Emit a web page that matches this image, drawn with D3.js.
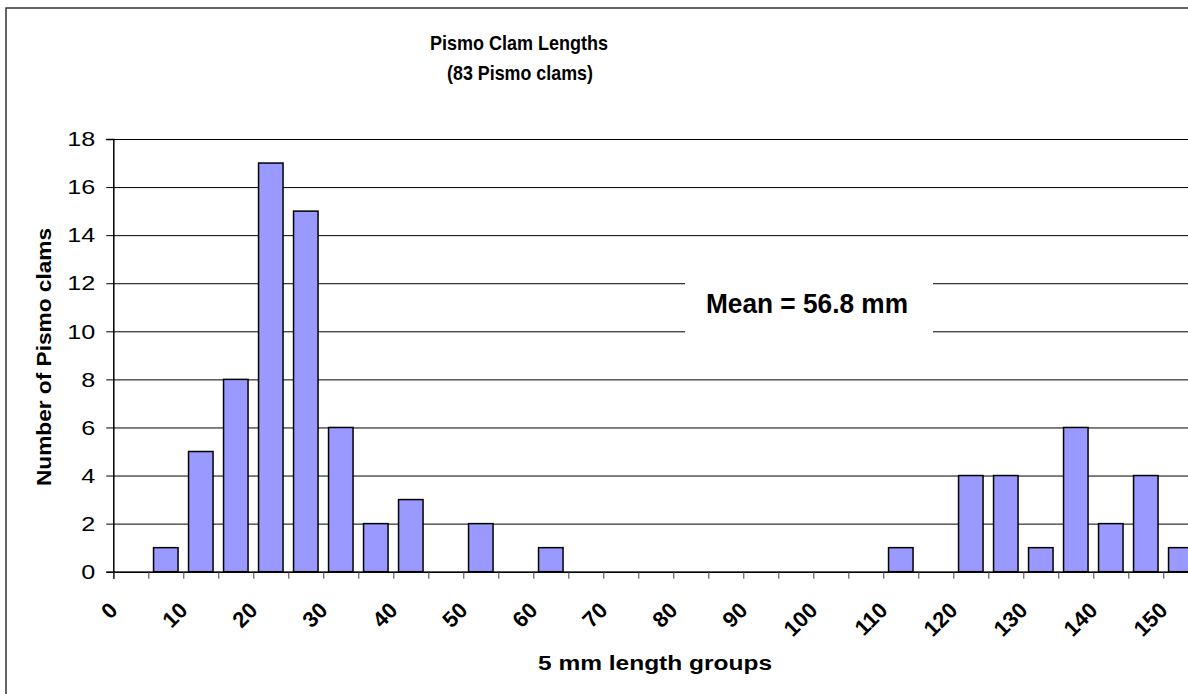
<!DOCTYPE html>
<html>
<head>
<meta charset="utf-8">
<script src="https://cdn.jsdelivr.net/npm/d3@7"></script>
<style>
  body { margin: 0; background: #fff; }
  svg { display: block; font-family: "Liberation Sans", Arial, sans-serif; }
</style>
</head>
<body>
<div id="chart"></div>
<script>
var categories = [0, 5, 10, 15, 20, 25, 30, 35, 40, 45, 50, 55, 60, 65, 70, 75,
                  80, 85, 90, 95, 100, 105, 110, 115, 120, 125, 130, 135, 140, 145, 150];
var counts = [0, 1, 5, 8, 17, 15, 6, 2, 3, 0, 2, 0, 1, 0, 0, 0,
              0, 0, 0, 0, 0, 0, 1, 0, 4, 4, 1, 6, 2, 4, 1];
var xLabels = ["0", "10", "20", "30", "40", "50", "60", "70", "80", "90",
               "100", "110", "120", "130", "140", "150"];
var yTicks = [0, 2, 4, 6, 8, 10, 12, 14, 16, 18];

var svgW = 1188, svgH = 694;
var plotLeft = 113.3, plotTop = 139, plotBottom = 571.7;
var plotW = 1085;

var svg = d3.select("#chart").append("svg")
    .attr("width", svgW).attr("height", svgH);

// outer chart border (runs off the right and bottom edges)
svg.append("rect")
    .attr("x", 6).attr("y", 8)
    .attr("width", 1300).attr("height", 800)
    .attr("fill", "none")
    .attr("stroke", "#333")
    .attr("stroke-width", 1.5);

var x = d3.scaleBand()
    .domain(categories)
    .range([plotLeft, plotLeft + plotW])
    .paddingInner(0.3)
    .paddingOuter(0.15);

var xb = d3.scaleLinear()
    .domain([0, categories.length])
    .range([plotLeft, plotLeft + plotW]);

var y = d3.scaleLinear()
    .domain([0, 18])
    .range([plotBottom, plotTop]);

// gridlines
svg.append("g")
    .attr("transform", "translate(" + plotLeft + ",0)")
    .call(d3.axisLeft(y).tickValues(yTicks).tickSize(-plotW).tickFormat(""))
    .call(g => g.select(".domain").remove())
    .selectAll("line").attr("stroke", "#000").attr("stroke-width", 1);

// mean label box
svg.append("rect")
    .attr("x", 685).attr("y", 268)
    .attr("width", 248).attr("height", 76)
    .attr("fill", "#fff");
svg.append("text")
    .attr("x", 807).attr("y", 313)
    .attr("text-anchor", "middle")
    .attr("font-size", 28).attr("font-weight", "bold")
    .attr("textLength", 202).attr("lengthAdjust", "spacingAndGlyphs")
    .text("Mean = 56.8 mm");

// bars
svg.selectAll("rect.bar")
    .data(categories.map((c, i) => ({cat: c, n: counts[i]})).filter(d => d.n > 0))
    .enter().append("rect")
    .attr("class", "bar")
    .attr("x", d => x(d.cat))
    .attr("y", d => y(d.n))
    .attr("width", x.bandwidth())
    .attr("height", d => y(0) - y(d.n))
    .attr("fill", "#9999ff")
    .attr("stroke", "#000")
    .attr("stroke-width", 1.5);

// y axis
var yAxis = svg.append("g")
    .attr("transform", "translate(" + plotLeft + ",0)")
    .call(d3.axisLeft(y).tickValues(yTicks).tickSize(7).tickPadding(11));
yAxis.select(".domain").attr("stroke", "#000").attr("stroke-width", 1.5);
yAxis.selectAll("line").attr("stroke", "#000");
yAxis.selectAll("text")
    .attr("font-size", 21)
    .attr("font-family", "'Liberation Sans', Arial, sans-serif")
    .attr("fill", "#000")
    .attr("transform", "translate(-18,0) scale(1.2,1)")
    .attr("x", 0);

// x axis
var xAxis = svg.append("g")
    .attr("transform", "translate(0," + plotBottom + ")")
    .call(d3.axisBottom(xb).tickValues(d3.range(0, categories.length + 1)).tickSize(7).tickFormat(""));
xAxis.select(".domain").attr("stroke", "#000").attr("stroke-width", 1.5);
xAxis.selectAll("line").attr("stroke", "#444");

svg.append("g").selectAll("text")
    .data(categories.filter(c => xLabels.indexOf(String(c)) >= 0))
    .enter().append("text")
    .attr("transform", d => "translate(" + (x(d) + x.bandwidth() / 2 - 12) + "," + (plotBottom + 40) + ") rotate(-45)")
    .attr("text-anchor", "end")
    .attr("font-size", 22)
    .attr("font-weight", "bold")
    .text(d => String(d));

// titles
svg.append("text")
    .attr("x", 519).attr("y", 50)
    .attr("text-anchor", "middle")
    .attr("font-size", 21).attr("font-weight", "bold")
    .attr("textLength", 178).attr("lengthAdjust", "spacingAndGlyphs")
    .text("Pismo Clam Lengths");
svg.append("text")
    .attr("x", 520).attr("y", 80)
    .attr("text-anchor", "middle")
    .attr("font-size", 21).attr("font-weight", "bold")
    .attr("textLength", 146).attr("lengthAdjust", "spacingAndGlyphs")
    .text("(83 Pismo clams)");

svg.append("text")
    .attr("transform", "translate(51,357) rotate(-90)")
    .attr("text-anchor", "middle")
    .attr("font-size", 21).attr("font-weight", "bold")
    .attr("textLength", 258).attr("lengthAdjust", "spacingAndGlyphs")
    .text("Number of Pismo clams");

svg.append("text")
    .attr("x", 655).attr("y", 670)
    .attr("text-anchor", "middle")
    .attr("font-size", 20).attr("font-weight", "bold")
    .attr("textLength", 234).attr("lengthAdjust", "spacingAndGlyphs")
    .text("5 mm length groups");
</script>
</body>
</html>
